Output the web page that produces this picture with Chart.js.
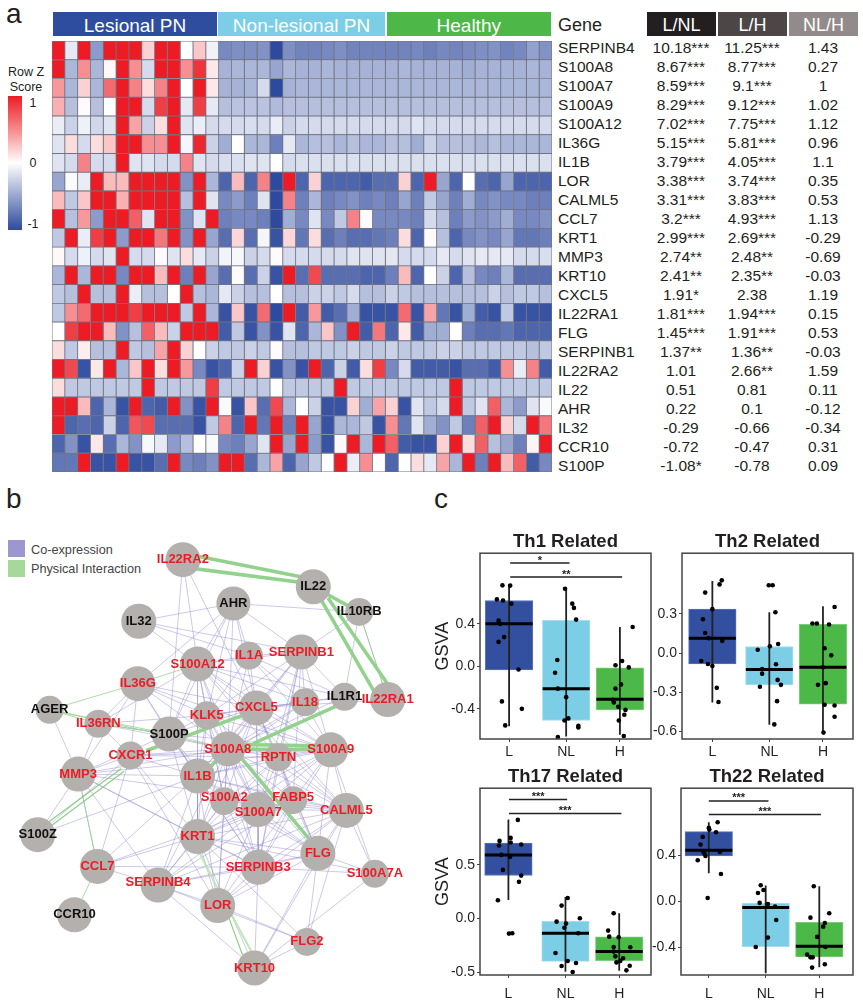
<!DOCTYPE html>
<html>
<head>
<meta charset="utf-8">
<title>Heatmap, network and GSVA panels</title>
<script src="https://cdn.jsdelivr.net/npm/chart.js@4"></script>
<style>
  html, body { margin: 0; padding: 0; background: #fff; }
  #page { position: relative; width: 863px; height: 1006px; overflow: hidden; font-family: "Liberation Sans", Arial, sans-serif; color: #231f20; }
  #page canvas { position: absolute; }
  .t { position: absolute; white-space: nowrap; line-height: 1; }
  .bar { position: absolute; }
</style>
</head>
<body>
<div id="page"></div>
<script>
// ---------- panel a: heatmap ----------
const heatGenes = ['SERPINB4','S100A8','S100A7','S100A9','S100A12','IL36G','IL1B','LOR','CALML5','CCL7','KRT1','MMP3','KRT10','CXCL5','IL22RA1','FLG','SERPINB1','IL22RA2','IL22','AHR','IL32','CCR10','S100P'];
const heatGroups = ['Lesional PN', 'Non-lesional PN', 'Healthy'];

// row z scores, 13 lesional + 13 non-lesional + 13 healthy columns
const heatRows = [
  [1,-.12,1,-.55,1,1,1,.2,1,1,0,.25,-.07,-.65,-.62,-.62,-.6,-1,-.62,-.68,-.68,-.65,-.62,-.68,-.68,-.68,-.68,-.68,-.66,-.7,-.66,-.68,-.64,-.62,-.6,-.68,-.65,-.52,-.6],
  [1,-.4,.5,-.4,.03,1,.5,-.2,1,1,.5,.9,.1,-.42,-.4,-.4,-.4,-.5,-.4,-.42,-.42,-.4,-.42,-.42,-.42,-.42,-.42,-.4,-.42,-.42,-.42,-.42,-.45,-.42,-.42,-.42,-.42,-.4,-.42],
  [.45,-.4,.2,-.4,.65,1,.55,.15,.55,1,0,1,.1,-.42,-.42,-.4,-.2,-1,-.42,-.4,-.4,-.4,-.4,-.4,-.4,-.4,-.4,-.4,-.4,-.4,-.4,-.4,-.4,-.4,-.4,-.4,-.4,-.4,-.4],
  [.35,-.35,.02,-.35,0,1,1,-.2,.85,1,-.12,.85,-.12,-.35,-.33,-.33,-.33,-.38,-.35,-.35,-.35,-.35,-.35,-.35,-.35,-.35,-.35,-.35,-.35,-.35,-.35,-.35,-.35,-.35,-.35,-.35,-.35,-.35,-.35],
  [-.1,-.25,-.08,-.22,-.15,1,.4,-.25,.15,1,-.15,-.1,-.2,-.2,-.2,-.18,-.2,-.1,-.25,-.2,-.2,-.2,-.2,-.2,-.2,-.2,-.2,-.2,-.15,-.2,-.2,-.2,-.2,-.2,-.2,-.2,-.2,-.2,-.2],
  [-.15,.15,-.2,.15,.25,1,1,.5,.5,1,-.05,.95,-.25,-.45,0,-.4,-.4,-.7,-.12,-.4,-.35,-.35,-.4,-.35,-.4,-.4,-.35,-.35,-.45,-.25,-.35,-.35,-.35,-.4,-.35,-.4,-.4,-.4,-.4],
  [-.15,-.2,.55,-.2,-.2,1,-.15,-.15,-.2,-.2,.55,-.15,-.2,-.18,-.17,-.15,-.15,0,-.2,-.17,-.17,-.17,-.17,-.17,-.17,-.17,-.17,-.17,-.17,-.17,-.17,-.17,-.17,-.17,-.17,-.17,-.17,-.17,-.17],
  [-.5,-.02,-.1,1,.3,.3,1,1,1,1,-.6,1,-.4,-.85,.3,-.85,.55,-1,1,-.85,.2,-.85,-.85,-.85,-.9,-.8,-.8,.2,-.85,1,-.5,-.85,0,-.8,-.85,-.5,-.85,-.85,-.85],
  [.3,-.3,.25,1,1,.35,1,1,1,1,-.35,1,-.15,-.65,-.55,-.7,-.15,-1,.55,-.7,-.4,-.7,-.65,-.6,-.7,-.65,-.7,-.5,-.7,-.3,-.5,-.7,-.45,-.65,-.6,-.65,-.65,-.7,-.7],
  [1,-.35,.45,-.55,1,1,.7,-.15,1,1,-.6,-.15,1,-.7,-.65,-.65,-.7,-1,-.45,-.65,-.15,-.65,-.3,.55,.02,-.65,-.65,-.65,-.7,-.2,-.35,-.7,-.55,-.6,-.55,-.45,-.65,-.65,-.6],
  [-.3,1,-.1,.85,1,-.55,1,1,.6,1,-.6,1,-.5,-.8,.18,-.8,-.05,-.95,.18,-.75,.15,-.8,-.7,-.8,-.8,-.75,-.7,.15,-.85,.02,-.35,-.85,-.65,-.6,-.65,-.5,-.75,-.75,-.7],
  [.03,-.2,-.08,-.2,-.15,1,-.2,-.2,.02,-.15,.15,-.12,-.25,-.06,-.04,-.25,-.2,.02,-.2,-.2,-.2,-.2,-.2,-.15,-.15,-.15,-.13,-.2,-.2,-.2,-.12,-.2,-.15,-.12,-.12,-.12,-.2,-.2,-.18],
  [-.4,1,-.4,1,1,-.65,1,1,.3,1,-.7,1,-.5,-.8,.02,-.8,-.25,-.95,1,-.8,.8,-.8,-.8,-.8,-.85,-.85,-.7,.3,-.85,0,-.25,-.85,-.35,-.65,-.7,-.4,-.8,-.8,-.8],
  [-.3,-.35,1,-.35,-.35,1,-.1,-.35,-.35,0,1,-.35,-.4,-.12,-.25,-.35,-.35,0,-.35,-.35,-.25,-.25,-.3,-.2,-.35,-.35,-.25,-.3,-.35,-.35,-.35,-.35,-.35,-.35,-.25,-.35,-.3,-.3,-.35],
  [-.3,.5,.65,1,1,1,.85,1,1,1,-.3,1,-.4,-.95,.25,-.95,.65,-1,1,-.9,.45,-.9,-.8,-.45,-.95,-.95,-.95,.65,-.95,.4,-.75,-.95,-.45,-.9,-.95,-.3,-.95,-.95,-.95],
  [0,.85,1,1,.3,-.6,-.35,.7,.3,-.25,1,1,1,-.9,-.3,-.95,-.6,-.95,-.15,-.85,-.4,.25,-.6,1,-.9,.6,-.85,.1,-.9,-.45,-.45,0,-.7,-.8,-.8,-.75,-.85,-.85,-.85],
  [.15,-.3,.08,-.35,-.35,1,-.3,-.35,.4,1,.2,0,-.25,-.3,-.3,-.25,-.3,.02,-.35,-.35,-.3,-.3,-.3,-.25,-.3,-.3,-.25,-.3,-.3,-.3,-.25,-.25,-.3,-.3,-.3,-.3,-.3,-.35,-.3],
  [1,.8,-.95,.1,1,-.4,.25,1,.15,1,.45,-.65,-.95,-.85,-.25,1,.2,-.95,-.6,-.95,1,-.85,-.25,-.9,.15,.85,-.65,-.2,-.9,-.9,-.9,-.95,-.8,-.8,-.9,.5,-.1,.55,-.9],
  [.15,-.3,-.3,-.3,-.3,-.3,-.3,1,-.3,-.3,-.3,-.3,.85,-.3,-.3,-.3,-.3,0,-.3,-.3,-.3,-.3,1,-.3,-.3,-.3,-.3,-.3,-.3,-.3,-.3,1,-.3,-.3,-.3,-.3,-.3,-.3,-.3],
  [1,1,.3,-.85,-.4,-.95,1,-.85,-.9,1,-.6,-.95,1,-.03,-.95,.25,-.8,.8,-.4,0,-.25,-.95,-.95,.2,-.45,.4,.2,-.95,-.15,-.3,-.2,1,-.3,-.15,.7,-.4,-.55,-.15,-.03],
  [1,-.85,-.8,-.85,-.25,-.85,.75,.8,-.8,-.8,-.8,-.95,-.3,.55,-.85,1,-.75,1,-.7,1,-.5,-.95,-.4,-.4,-.3,-.95,.5,-.75,-.15,-.45,-.6,-.3,-.7,.7,1,.2,-.2,1,.6],
  [-.85,-.6,-.95,.1,-.8,-.4,-.6,-.04,-.12,-.55,-.35,0,-.03,-.65,-.7,-.5,-.15,1,-.5,1,-.55,-.95,.03,1,-.4,1,.7,-.9,-.95,-.95,.2,1,.15,.7,-.35,-.5,-.7,.05,1],
  [-.75,-.75,1,-.95,-.95,1,-.95,-.95,-.8,1,-.65,-.7,-.6,1,1,-.8,-.4,.4,-.85,-.5,-.3,0,1,-.1,.5,0,-.85,0,.15,-.12,.4,-.4,1,-.7,1,.3,.7,-.9,-.65]
];

const lfcLNL = ['10.18***','8.67***','8.59***','8.29***','7.02***','5.15***','3.79***','3.38***','3.31***','3.2***','2.99***','2.74**','2.41**','1.91*','1.81***','1.45***','1.37**','1.01','0.51','0.22','-0.29','-0.72','-1.08*'];
const lfcLH = ['11.25***','8.77***','9.1***','9.12***','7.75***','5.81***','4.05***','3.74***','3.83***','4.93***','2.69***','2.48**','2.35**','2.38','1.94***','1.91***','1.36**','2.66**','0.81','0.1','-0.66','-0.47','-0.78'];
const lfcNLH = ['1.43','0.27','1','1.02','1.12','0.96','1.1','0.35','0.53','1.13','-0.29','-0.69','-0.03','1.19','0.15','0.53','-0.03','1.59','0.11','-0.12','-0.34','0.31','0.09'];

// ---------- panel b: network ----------
const nodeNames = ['IL22RA2','IL22','IL10RB','AHR','IL32','SERPINB1','IL1A','S100A12','IL36G','IL1R1','IL22RA1','IL18','CXCL5','AGER','KLK5','IL36RN','S100P','S100A8','S100A9','RPTN','CXCR1','MMP3','IL1B','S100A2','FABP5','S100A7','CALML5','S100Z','KRT1','FLG','CCL7','SERPINB3','S100A7A','SERPINB4','LOR','CCR10','FLG2','KRT10'];
const nodeX = [180,322,372,235,132,309,252,196,131,356,403,313,260,35,206,88,165,229,341,284,123,66,196,225,300,262,358,22,196,327,87,262,389,153,218,62,315,258];
const nodeY = [546,575,602,593,612,645,649,658,679,693,696,699,705,707,713,722,733,749,750,758,756,776,778,805,804,814,815,841,843,861,875,876,883,895,917,927,956,984];
const nodeR = [17.5,17.5,14,17,17.5,17.5,14,17.5,17.5,14,17.5,14,17.5,14,14,14,17.5,17.5,17.5,14,14,17.5,17.5,14,14,17.5,17.5,17.5,17.5,17.5,17.5,17.5,14,17.5,17.5,17.5,14,17.5];
const blackNodes = ['IL22','IL10RB','AHR','IL32','IL1R1','AGER','S100P','S100Z','CCR10'];

const coEdges = `IL22RA2-S100P IL22RA2-CXCL5 IL22RA2-S100A12 IL32-AHR IL32-IL1A IL32-SERPINB1 IL32-S100A12 AHR-IL10RB AHR-SERPINB1 AHR-S100A12 AHR-IL1A AHR-S100A8 AHR-KLK5 AHR-CXCL5 AHR-S100P AHR-IL36G
IL10RB-SERPINB1 IL10RB-IL1R1 IL10RB-IL22RA1 IL1R1-SERPINB1 IL1R1-S100A12 IL1R1-IL1A IL1R1-IL18 IL1R1-CXCL5 IL22RA1-CXCL5 IL1R1-S100A8
IL36G-S100P IL36G-IL36RN IL36G-S100A8 IL36G-CXCR1 IL36G-IL1B IL36G-MMP3 IL36G-CXCL5 IL36G-S100A9 IL36G-KLK5 AGER-MMP3 IL36RN-S100P IL36RN-CXCR1 IL36RN-S100A8 IL36RN-MMP3 IL36RN-KLK5
CXCR1-MMP3 CXCR1-KRT1 CXCR1-LOR CXCR1-S100A8 CXCR1-IL1B CXCR1-CCL7 CXCR1-S100A9 CXCR1-RPTN MMP3-S100Z MMP3-S100A8 MMP3-IL1B MMP3-KRT1 MMP3-S100A9 MMP3-SERPINB3 MMP3-CCL7 MMP3-SERPINB4 MMP3-CALML5 MMP3-S100P S100Z-IL1B S100Z-CXCR1
CCL7-SERPINB4 CCL7-KRT1 CCL7-IL1B CCL7-SERPINB3 CCL7-S100A7 SERPINB4-KRT1 SERPINB4-S100A7 SERPINB4-SERPINB3 SERPINB4-FLG SERPINB4-CALML5 SERPINB4-LOR SERPINB4-KRT10 SERPINB4-FLG2 SERPINB4-IL1B SERPINB4-S100A8 SERPINB4-S100A2 SERPINB4-FABP5
LOR-FLG2 LOR-FLG LOR-SERPINB3 LOR-KRT1 LOR-S100A7 LOR-CALML5 LOR-S100A2 LOR-IL1B LOR-S100A8 LOR-FABP5 KRT10-FLG2 KRT10-FLG KRT10-SERPINB3 KRT10-KRT1 KRT10-CALML5 KRT10-S100A7A FLG2-FLG FLG2-CALML5 FLG2-KRT1
S100A7A-FLG S100A7A-CALML5 S100A7A-KRT1 S100A7A-SERPINB3 S100A7A-S100A9 S100A9-CALML5 S100A9-FLG S100A9-KRT1 S100A9-SERPINB3 S100A9-S100A7 S100A9-FABP5 S100A9-S100A2 S100A9-IL1B S100A9-RPTN S100A9-CXCL5 S100A9-S100A12 S100A9-SERPINB1 S100A9-IL18 S100A9-KLK5 S100A9-S100P S100A9-IL1A
S100A8-RPTN S100A8-IL1B S100A8-S100A2 S100A8-FABP5 S100A8-S100A7 S100A8-CALML5 S100A8-KRT1 S100A8-FLG S100A8-SERPINB3 S100A8-KLK5 S100A8-CXCL5 S100A8-IL18 S100A8-S100A12 S100A8-SERPINB1 S100A8-S100P S100A8-IL1A
RPTN-IL1B RPTN-S100A2 RPTN-FABP5 RPTN-S100A7 RPTN-CALML5 RPTN-KRT1 RPTN-FLG RPTN-SERPINB3 RPTN-CXCL5 RPTN-SERPINB1 RPTN-S100A12
IL1B-S100A2 IL1B-FABP5 IL1B-S100A7 IL1B-CALML5 IL1B-KRT1 IL1B-FLG IL1B-SERPINB3 IL1B-KLK5 IL1B-CXCL5 IL1B-S100A12 IL1B-SERPINB1 IL1B-S100P IL1B-IL18
S100A2-S100A7 S100A2-CALML5 S100A2-KRT1 S100A2-FLG S100A2-SERPINB3 S100A2-FABP5 S100A2-KLK5 S100A2-CXCL5 S100A2-S100A12 S100A2-S100P
FABP5-S100A7 FABP5-CALML5 FABP5-KRT1 FABP5-FLG FABP5-SERPINB3 FABP5-CXCL5 FABP5-SERPINB1 S100A7-CALML5 S100A7-KRT1 S100A7-FLG S100A7-SERPINB3 S100A7-KLK5 S100A7-CXCL5 S100A7-S100A12 S100A7-SERPINB1
CALML5-KRT1 CALML5-FLG CALML5-SERPINB3 CALML5-CXCL5 CALML5-KLK5 CALML5-S100A12 KRT1-FLG KRT1-SERPINB3 KRT1-KLK5 KRT1-CXCL5 KRT1-S100A12 KRT1-S100P FLG-SERPINB3 FLG-CXCL5 SERPINB3-KLK5 SERPINB3-CXCL5 SERPINB3-S100P SERPINB3-SERPINB1
KLK5-CXCL5 KLK5-S100A12 KLK5-IL18 KLK5-SERPINB1 KLK5-S100P CXCL5-IL18 CXCL5-S100A12 CXCL5-SERPINB1 CXCL5-IL1A CXCL5-S100P IL18-SERPINB1 IL18-S100A12 IL18-IL1A IL1A-S100A12 IL1A-SERPINB1 IL1A-KLK5 S100A12-SERPINB1 S100A12-S100P S100A12-IL36RN`.split(/\s+/);
const greenThinEdges = ['IL36G-S100A12','AGER-IL36G','AGER-IL36RN','AGER-S100P','IL36RN-S100P','IL10RB-IL22RA1','MMP3-CCL7','CCL7-CCR10','AGER-S100A8'];
// interaction bands, from-x, from-y, to-x, to-y in network layout units
const greenSlimBands = [[33,828,113,770],[36,832,116,773],[230,930,245,970]];
const greenMidBands = [[233,927,255,967],[198,860,220,903]];
const greenThickBands = [[180,539,322,567],[180,554,322,572],[331,590,388,687],[338,587,402,678],[322,575,372,602],[245,713,140,751],[257,743,347,703],[229,749,341,750],[229,744,341,746],[243,758,317,845],[210,768,229,749]];
const labelNudge = { S100A2: -4, FABP5: -3, S100A7: 3, SERPINB4: -3 };

// ---------- panel c: GSVA boxes ----------
const boxGroups = ['L', 'NL', 'H'];
const boxPos = [1, 2.03, 3];

const th1Q1 = [-.034, -.51, -.41], th1Med = [.4, -.21, -.31], th1Q3 = [.62, .434, -.013], th1Lo = [-.565, -.66, -.645], th1Hi = [.77, .73, .37];
const th1Px = [.88,1.02,.78,.89,1.04,.81,.84,.91,.81,1.17,.87,1.23,.93, 2.01,2.14,2.17,2.21,1.87,1.83,1.88,2.03,2.0,2.07,2.25,2.25,1.88, 3.23,3.04,2.92,3.16,3.02,2.92,2.87,2.89,2.97,3.1,3.08,2.98,3.07];
const th1Py = [.7625,.76,.63,.62,.59,.43,.4,.275,.23,-.03,-.33,-.4,-.556, .73,.59,.55,.44,.06,-.06,-.21,-.29,-.51,-.49,-.56,-.575,-.665, .37,.05,.01,-.01,-.17,-.21,-.315,-.34,-.38,-.41,-.456,-.51,-.656];
const th1Ticks = [-.4, 0, .4];
const th1Brackets = [[1.02, 2.09, .972, '*'], [1.02, 3.04, .84, '**']];

const th2Q1 = [-.084, -.244, -.392], th2Med = [.114, -.127, -.109], th2Q3 = [.336, .05, .219], th2Lo = [-.379, -.549, -.62], th2Hi = [.552, .313, .358];
const th2Px = [1.17,1.13,.87,1.0,.83,.87,.93,1.18,.8,.92,1.0,1.08,1.11, 2.02,2.09,2.14,2.19,2.04,1.82,2.15,1.9,1.9,2.18,2.24,1.86,2.17,2.12, 3.21,2.81,2.89,3.11,3.03,3.15,3.0,2.91,3.05,3.03,3.21,3.21,3.01];
const th2Py = [.557,.526,.463,.336,.259,.153,.114,.092,-.061,-.084,-.099,-.267,-.376, .519,.519,.313,.069,.051,.025,-.086,-.122,-.158,-.206,-.244,-.259,-.369,-.547, .353,.226,.226,.219,.036,-.018,-.109,-.244,-.231,-.397,-.402,-.488,-.61];
const th2Ticks = [-.6, -.3, 0, .3];

const th17Q1 = [.4, -.396, -.39], th17Med = [.591, -.136, -.306], th17Q3 = [.7, -.025, -.17], th17Lo = [.173, -.492, -.483], th17Hi = [.92, .2, .05];
const th17Px = [1.17,1.04,.84,1.04,.83,1.23,.87,1.03,.9,1.23,1.19,.81,1.01,1.07, 2.07,1.96,2.29,1.87,2.04,2.01,2.26,1.85,2.07,1.96,2.22,2.16, 2.9,2.8,2.82,2.99,2.9,3.2,2.9,2.93,3.07,3.02,2.95,3.19,3.13];
const th17Py = [.916,.749,.721,.706,.678,.687,.591,.573,.452,.399,.341,.17,-.139,-.136, .192,.121,.003,-.028,-.046,-.084,-.136,-.319,-.393,-.44,-.412,-.495, .05,-.111,-.167,-.173,-.263,-.266,-.306,-.35,-.368,-.393,-.406,-.437,-.48];
const th17Ticks = [-.5, 0, .5];
const th17Brackets = [[1.01, 2.06, 1.105, '***'], [1.01, 3.04, .975, '***']];

const th22Q1 = [.393, -.393, -.483], th22Med = [.442, -.055, -.39], th22Q3 = [.604, -.017, -.182], th22Lo = [.243, -.624, -.572], th22Hi = [.685, .136, .13];
const th22Px = [1.16,1.0,1.01,1.13,.89,.85,.9,.92,.94,1.2,.8,1.22,.98, 1.94,1.99,1.89,1.92,2.07,2.2,2.22,2.07,1.85, 2.9,3.18,2.84,3.1,3.07,2.96,3.11,2.78,2.84,2.88,3.1,2.87];
const th22Py = [.685,.636,.621,.598,.558,.491,.431,.413,.393,.428,.355,.237,.029, .139,.098,.072,-.014,-.023,-.046,-.162,-.315,-.396, .13,-.104,-.142,-.188,-.22,-.309,-.396,-.462,-.486,-.486,-.546,-.575];
const th22Ticks = [-.4, 0, .4];
const th22Brackets = [[1, 2.08, .87, '***'], [1, 3.03, .751, '***']];

// ---------- helpers ----------
const page = document.getElementById('page');
const FONT = '"Liberation Sans", Arial, sans-serif';
Chart.defaults.font.family = FONT;
Chart.defaults.animation = false;
Chart.defaults.responsive = false;
Chart.defaults.plugins.legend.display = false;
Chart.defaults.plugins.tooltip.enabled = false;

function addCanvas(left, top, w, h) {
  const c = document.createElement('canvas');
  c.width = w; c.height = h;
  c.style.cssText = `left:${left}px;top:${top}px;width:${w}px;height:${h}px`;
  page.appendChild(c);
  return c;
}

// anchor: 0 left, .5 centre, 1 right; y is always the text's middle
function addText(text, x, y, size, opts = {}) {
  const d = document.createElement('div');
  d.className = 't';
  d.textContent = text;
  d.style.cssText = `left:${x}px;top:${y}px;font-size:${size}px;color:${opts.color || '#231f20'};font-weight:${opts.weight || 'normal'};transform:translate(${-(opts.anchor || 0) * 100}%,-50%)`;
  page.appendChild(d);
}

function addBar(x, y, w, h, color) {
  const d = document.createElement('div');
  d.className = 'bar';
  d.style.cssText = `left:${x}px;top:${y}px;width:${w}px;height:${h}px;background:${color}`;
  page.appendChild(d);
}

// blue - white - red colour key, same as the colour bar
function heatColor(z) {
  const end = z < 0 ? [46, 74, 158] : [237, 28, 36];
  const t = Math.min(1, Math.abs(z));
  const c = end.map(e => Math.round(255 + (e - 255) * t));
  return `rgb(${c[0]},${c[1]},${c[2]})`;
}

// flat list of points with a gap between each segment
function segments(list) {
  const pts = [];
  list.forEach(s => {
    pts.push({ x: s[0], y: s[1] }, { x: s[2], y: s[3] }, { x: s[2], y: null });
  });
  return pts;
}

// ---------- panel a ----------
addText('a', 6, 14, 28);

heatGroups.forEach((g, i) => {
  const x = [53, 218, 387][i], w = [164, 167, 163.5][i];
  addBar(x, 12, w, 24, ['#2f4d9e', '#7ccee6', '#4db848'][i]);
  addText(g, x + w / 2, 24.5, 19, { color: '#fff', anchor: .5 });
});

addText('Gene', 558, 24.5, 18);
[['L/NL', 647, 69, '#231f20'], ['L/H', 718, 69, '#4d4646'], ['NL/H', 789, 69, '#938b8b']].forEach(h => {
  addBar(h[1], 12, h[2], 24, h[3]);
  addText(h[0], h[1] + h[2] / 2, 24.5, 18, { color: '#fff', anchor: .5 });
});

heatGenes.forEach((g, i) => {
  const y = 47.7 + i * 19.0;
  addText(g, 558, y, 15.5);
  addText(lfcLNL[i], 681, y, 15.5, { anchor: .5 });
  addText(lfcLH[i], 752, y, 15.5, { anchor: .5 });
  addText(lfcNLH[i], 823, y, 15.5, { anchor: .5 });
});

addText('Row Z', 26, 72, 12.5, { anchor: .5 });
addText('Score', 26, 87, 12.5, { anchor: .5 });
const key = document.createElement('div');
key.className = 'bar';
key.style.cssText = 'left:8px;top:96px;width:14px;height:134px;background:linear-gradient(to bottom,#ed1c24 0%,#f58a8a 25%,#ffffff 50%,#97a4ce 75%,#2e4a9e 100%)';
page.appendChild(key);
addText('1', 33, 103, 12.5, { anchor: .5 });
addText('0', 33, 163, 12.5, { anchor: .5 });
addText('-1', 33, 224, 12.5, { anchor: .5 });

new Chart(addCanvas(52, 41, 500, 431), {
  type: 'bar',
  data: {
    labels: heatGenes,
    datasets: heatRows[0].map((_, col) => ({
      data: heatGenes.map(() => 1),
      backgroundColor: heatRows.map(r => heatColor(r[col])),
      borderColor: '#6f7385',
      borderWidth: 0.8,
      borderSkipped: false,
      barPercentage: 1,
      categoryPercentage: 1
    }))
  },
  options: {
    indexAxis: 'y',
    scales: {
      x: { stacked: true, min: 0, max: heatRows[0].length, display: false },
      y: { stacked: true, display: false }
    }
  }
});

// ---------- panel b ----------
addText('b', 6, 499, 28);
addBar(8, 540, 17, 17, '#9d97cf');
addBar(8, 560, 17, 17, '#a6d89c');
addText('Co-expression', 31, 550, 12.7, { color: '#444' });
addText('Physical Interaction', 31, 569, 12.7, { color: '#444' });

function edgeSegments(edges) {
  return edges.map(e => {
    const [a, b] = e.split('-').map(n => nodeNames.indexOf(n));
    return [nodeX[a], nodeY[a], nodeX[b], nodeY[b]];
  });
}

const nodeLabels = {
  id: 'nodeLabels',
  afterDatasetsDraw(chart) {
    const { ctx, scales } = chart;
    ctx.save();
    ctx.font = `bold 13px ${FONT}`;
    ctx.textAlign = 'center';
    ctx.textBaseline = 'middle';
    nodeNames.forEach((n, i) => {
      ctx.fillStyle = blackNodes.includes(n) ? '#111' : '#ed1c24';
      ctx.fillText(n, scales.x.getPixelForValue(nodeX[i]), scales.y.getPixelForValue(nodeY[i] + (labelNudge[n] || 0)));
    });
    ctx.restore();
  }
};

const edgeLine = (data, color, width, order) => ({
  data, borderColor: color, borderWidth: width, showLine: true, pointRadius: 0, spanGaps: false, order
});

new Chart(addCanvas(0, 490, 430, 516), {
  type: 'scatter',
  data: {
    datasets: [
      edgeLine(segments(edgeSegments(coEdges)), 'rgba(143,135,205,.5)', 0.9, 6),
      edgeLine(segments(edgeSegments(greenThinEdges)), 'rgba(150,210,140,.8)', 1, 5),
      edgeLine(segments(greenSlimBands), 'rgba(130,200,125,.9)', 1.2, 4),
      edgeLine(segments(greenMidBands), 'rgba(190,228,180,.9)', 2.2, 3),
      edgeLine(segments(greenThickBands), '#93d28d', 3.6, 2),
      {
        data: nodeNames.map((_, i) => ({ x: nodeX[i], y: nodeY[i] })),
        pointRadius: nodeR,
        backgroundColor: '#b4b0ae',
        borderWidth: 0,
        order: 1
      }
    ]
  },
  options: {
    scales: {
      x: { type: 'linear', min: 0, max: 430, display: false },
      y: { type: 'linear', min: 490, max: 1006, reverse: true, display: false }
    }
  },
  plugins: [nodeLabels]
});

// ---------- panel c ----------
addText('c', 434, 499, 28);

const frameAndStars = {
  id: 'frameAndStars',
  afterDatasetsDraw(chart, args, opts) {
    const { ctx, chartArea: a, scales } = chart;
    ctx.save();
    ctx.strokeStyle = '#444';
    ctx.lineWidth = 1.5;
    ctx.strokeRect(a.left, a.top, a.right - a.left, a.bottom - a.top);
    ctx.fillStyle = '#222';
    ctx.font = `bold 11px ${FONT}`;
    ctx.textAlign = 'center';
    ctx.textBaseline = 'middle';
    (opts.brackets || []).forEach(b => {
      ctx.fillText(b[3], scales.x.getPixelForValue((b[0] + b[1]) / 2), scales.y.getPixelForValue(b[2]) - 2.5);
    });
    ctx.restore();
  }
};

function boxPanel(cfg) {
  const leftW = 50, rightPad = 3, titleH = 22, bottomH = 30;
  const f = cfg.frame;
  const W = f[1] - f[0] + leftW + rightPad, H = f[3] - f[2] + titleH + bottomH;
  const whiskers = boxPos.map((p, i) => [p, cfg.lo[i], p, cfg.hi[i]]);
  const medians = boxPos.map((p, i) => [p - .425, cfg.med[i], p + .425, cfg.med[i]]);
  const brackets = cfg.brackets || [];
  new Chart(addCanvas(f[0] - leftW, f[2] - titleH, W, H), {
    type: 'bar',
    data: {
      datasets: [
        {
          type: 'bar',
          data: boxPos.map((p, i) => ({ x: p, y: [cfg.q1[i], cfg.q3[i]] })),
          backgroundColor: ['#32509f', '#7ccee6', '#4cb848'],
          borderColor: ['#5a74bb', '#a2def0', '#7ccd77'],
          borderWidth: 1,
          borderSkipped: false,
          barThickness: 47.5,
          order: 5
        },
        { type: 'scatter', data: segments(whiskers), showLine: true, borderColor: '#222', borderWidth: 1.8, pointRadius: 0, order: 4 },
        { type: 'scatter', data: segments(medians), showLine: true, borderColor: '#000', borderWidth: 3, pointRadius: 0, order: 3 },
        { type: 'scatter', data: segments(brackets.map(b => [b[0], b[2], b[1], b[2]])), showLine: true, borderColor: '#222', borderWidth: 1.5, pointRadius: 0, order: 2 },
        { type: 'scatter', data: cfg.px.map((x, i) => ({ x, y: cfg.py[i] })), backgroundColor: '#000', pointRadius: 2.3, borderWidth: 0, order: 1 }
      ]
    },
    options: {
      layout: { padding: { right: rightPad } },
      plugins: {
        title: {
          display: true, text: cfg.title, fullSize: false,
          font: { size: 18.5, weight: 'bold', lineHeight: 1.2 }, color: '#231f20',
          padding: { top: 0, bottom: 0 }
        },
        frameAndStars: { brackets }
      },
      scales: {
        x: {
          type: 'linear', offset: false, min: cfg.xRange[0], max: cfg.xRange[1],
          afterBuildTicks: s => { s.ticks = boxPos.map(v => ({ value: v })); },
          afterFit: s => { s.height = bottomH; },
          ticks: { font: { size: 14 }, color: '#231f20', padding: cfg.xPad, maxRotation: 0, autoSkip: false, callback: v => boxGroups[boxPos.indexOf(v)] },
          grid: { drawOnChartArea: false, offset: false, tickLength: 3, color: '#444' },
          border: { display: false }
        },
        y: {
          type: 'linear', min: cfg.yRange[0], max: cfg.yRange[1],
          afterBuildTicks: s => { s.ticks = cfg.ticks.map(v => ({ value: v })); },
          afterFit: s => { s.width = leftW; },
          title: { display: !!cfg.yTitle, text: 'GSVA', font: { size: 18, lineHeight: 1.2 }, color: '#231f20', padding: { top: 2, bottom: 0 } },
          ticks: { font: { size: 14 }, color: '#231f20', padding: 2, callback: v => v.toFixed(1) },
          grid: { drawOnChartArea: false, tickLength: 3, color: '#444' },
          border: { display: false }
        }
      }
    },
    plugins: [frameAndStars]
  });
}

boxPanel({ title: 'Th1 Related', frame: [480, 652, 553, 739], xRange: [.475, 3.561], yRange: [-.684, 1.065], ticks: th1Ticks, q1: th1Q1, med: th1Med, q3: th1Q3, lo: th1Lo, hi: th1Hi, px: th1Px, py: th1Py, brackets: th1Brackets, yTitle: true, xPad: 2 });
boxPanel({ title: 'Th2 Related', frame: [682, 854, 553, 739], xRange: [.451, 3.543], yRange: [-.659, .765], ticks: th2Ticks, q1: th2Q1, med: th2Med, q3: th2Q3, lo: th2Lo, hi: th2Hi, px: th2Px, py: th2Py, xPad: 2 });
boxPanel({ title: 'Th17 Related', frame: [480, 652, 788, 975], xRange: [.487, 3.574], yRange: [-.523, 1.21], ticks: th17Ticks, q1: th17Q1, med: th17Med, q3: th17Q3, lo: th17Lo, hi: th17Hi, px: th17Px, py: th17Py, brackets: th17Brackets, yTitle: true, xPad: 7.5 });
boxPanel({ title: 'Th22 Related', frame: [681, 854, 788, 975], xRange: [.497, 3.61], yRange: [-.639, .98], ticks: th22Ticks, q1: th22Q1, med: th22Med, q3: th22Q3, lo: th22Lo, hi: th22Hi, px: th22Px, py: th22Py, brackets: th22Brackets, xPad: 7.5 });
</script>
</body>
</html>
